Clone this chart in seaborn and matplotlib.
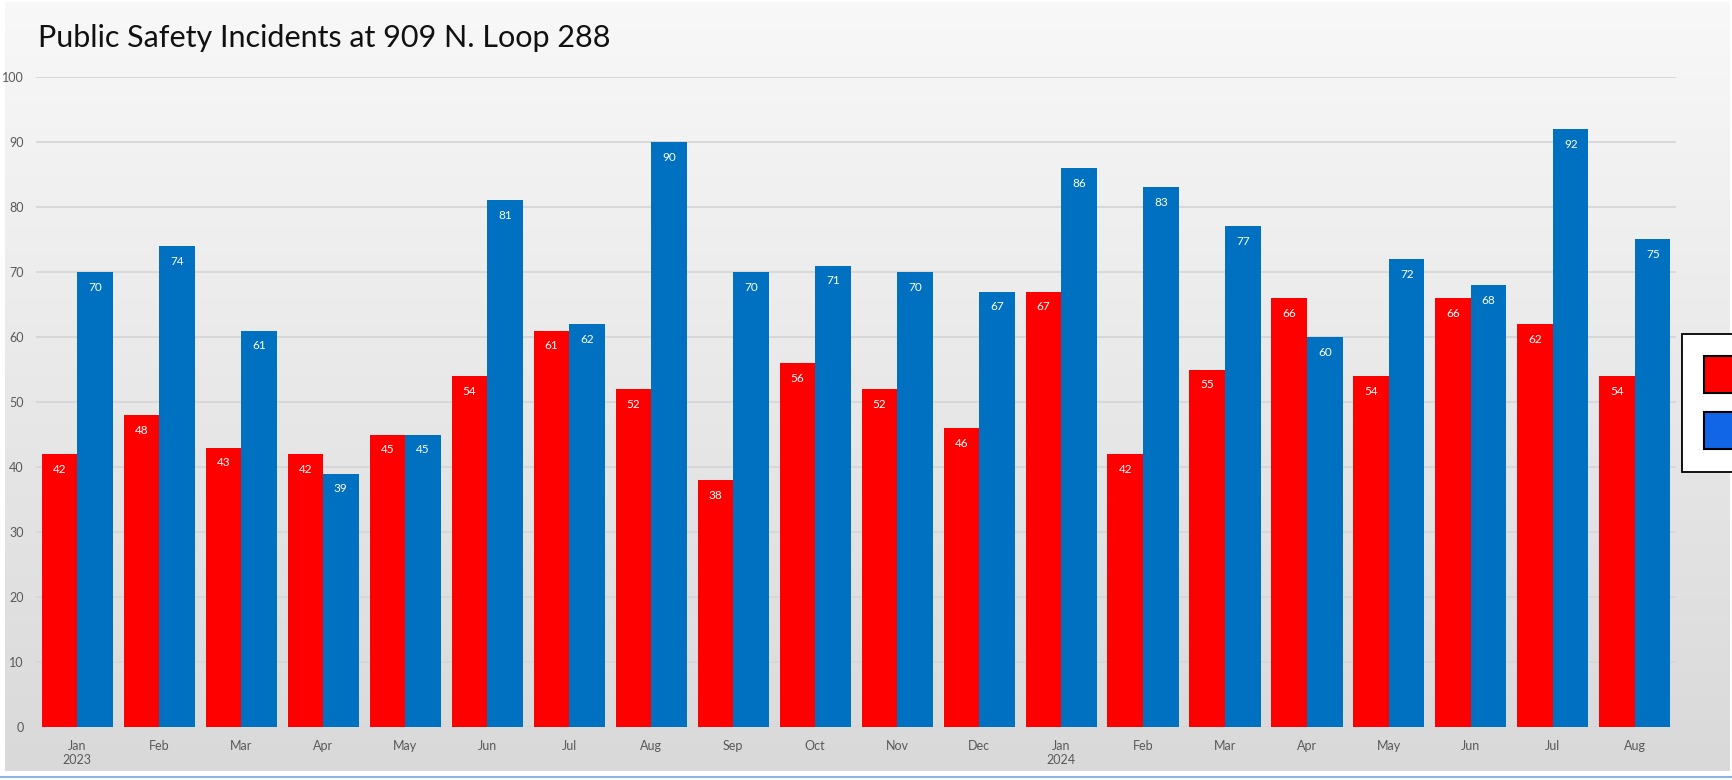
import numpy as np
import pandas as pd
import matplotlib
matplotlib.use("Agg")
import matplotlib.pyplot as plt
import matplotlib.patches as mpatches
import seaborn as sns

months = ["Jan", "Feb", "Mar", "Apr", "May", "Jun", "Jul", "Aug", "Sep", "Oct", "Nov", "Dec",
          "Jan", "Feb", "Mar", "Apr", "May", "Jun", "Jul", "Aug"]
years = ["2023"] + [""] * 11 + ["2024"] + [""] * 7
red_vals = [42, 48, 43, 42, 45, 54, 61, 52, 38, 56, 52, 46, 67, 42, 55, 66, 54, 66, 62, 54]
blue_vals = [70, 74, 61, 39, 45, 81, 62, 90, 70, 71, 70, 67, 86, 83, 77, 60, 72, 68, 92, 75]
y_ticks = [0, 10, 20, 30, 40, 50, 60, 70, 80, 90, 100]
title = "Public Safety Incidents at 909 N. Loop 288"

keys = [f"{i:02d}" for i in range(len(months))]
df = pd.DataFrame({
    "key": keys * 2,
    "value": red_vals + blue_vals,
    "series": ["A"] * len(keys) + ["B"] * len(keys),
})

sns.set_style("white")
plt.rcParams["font.family"] = ["Lato", "DejaVu Sans"]

fig = plt.figure(figsize=(17.33, 7.80), dpi=100)
fig.patch.set_facecolor("white")

# gradient panel behind the chart
bg = fig.add_axes([0.003, 0.012, 0.995, 0.985], zorder=0)
grad = np.linspace(0, 1, 256).reshape(-1, 1)
bg.imshow(grad, aspect="auto", cmap=matplotlib.colors.LinearSegmentedColormap.from_list(
    "bg", ["#f8f8f8", "#d9d9d9"]), extent=[0, 1, 0, 1], origin="upper")
bg.set_axis_off()

ax = fig.add_axes([0.0208, 0.0679, 0.9463, 0.8334], zorder=1)
ax.patch.set_alpha(0)

sns.barplot(data=df, x="key", y="value", hue="series", order=keys,
            palette={"A": "#ff0000", "B": "#0070c0"}, width=0.866,
            saturation=1, legend=False, ax=ax, zorder=3,
            edgecolor="none", linewidth=0)

for c in ax.containers:
    ax.bar_label(c, fmt="{:.0f}", padding=-15, color="white", fontsize=8.5)

ax.set_ylim(0, 100)
ax.set_xlim(-0.5, len(keys) - 0.5)
ax.set_yticks(y_ticks)
ax.set_yticklabels([str(t) for t in y_ticks])
ax.set_xticks(range(len(keys)))
ax.set_xticklabels([m + ("\n" + y if y else "") for m, y in zip(months, years)], va="top")
ax.tick_params(axis="both", length=0, labelsize=9, colors="#595959")
ax.tick_params(axis="y", pad=9)
ax.tick_params(axis="x", pad=9)
ax.set_xlabel("")
ax.set_ylabel("")
ax.grid(axis="y", color="#d6d6d6", linewidth=1.3, zorder=0)
ax.set_axisbelow(True)
sns.despine(ax=ax, left=True, bottom=True)

fig.text(0.022, 0.951, title, fontsize=22, color="#111111", va="center", ha="left")

handles = [mpatches.Patch(facecolor="#ff0000", edgecolor="black", linewidth=1.5),
           mpatches.Patch(facecolor="#1166e8", edgecolor="black", linewidth=1.5)]
leg = fig.legend(handles, ["", ""], loc="upper left", bbox_to_anchor=(1682 / 1733, 1 - 334 / 780),
                 fontsize=23, handlelength=1.4, handleheight=1.4, labelspacing=0.6,
                 borderpad=0.7, handletextpad=0.3, borderaxespad=0, fancybox=False,
                 framealpha=1, edgecolor="black")
leg.get_frame().set_linewidth(1.3)

fig.add_artist(plt.Line2D([0, 1], [0.004, 0.004], color="#8db3e2", linewidth=1.5))

fig.savefig("out.png", dpi=100)
